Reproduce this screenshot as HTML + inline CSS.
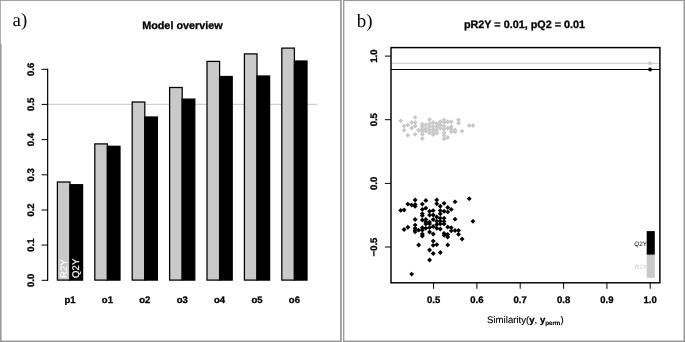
<!DOCTYPE html>
<html lang="en"><head><meta charset="utf-8"><title>Model overview and permutation plot</title>
<style>html,body{margin:0;padding:0;background:#fff}svg{display:block}text{font-family:"Liberation Sans",Arial,Helvetica,sans-serif;fill:#000;text-rendering:geometricPrecision}.b{font-weight:bold;stroke:#000;stroke-width:0.3px}.s{font-family:"Liberation Serif","Times New Roman",serif}</style></head><body>
<svg width="685" height="342" viewBox="0 0 685 342">
<rect x="0" y="0" width="685" height="342" fill="#fff"/>
<g fill="#9a9a9a">
<rect x="0" y="0" width="342" height="0.9"/>
<rect x="0" y="0" width="0.8" height="44"/>
<rect x="0" y="44" width="1.6" height="298"/>
<rect x="0" y="340.5" width="341.9" height="1.5"/>
<rect x="340" y="0" width="1.9" height="342" fill="#a2a2a2"/>
<rect x="343" y="0" width="1.35" height="342"/>
<rect x="343" y="0" width="342" height="1.1"/>
<rect x="343" y="340.5" width="342" height="1.5"/>
<rect x="683.5" y="0" width="1.5" height="342"/>
</g>
<text class="s" x="12.5" y="25.9" font-size="18.9">a)</text>
<text class="b" x="182.4" y="28.6" font-size="10.8" text-anchor="middle">Model overview</text>
<line x1="48" y1="104.3" x2="317.4" y2="104.3" stroke="#bdbdbd" stroke-width="0.9"/>
<g stroke="#000" stroke-width="1" fill="none">
<line x1="47.65" y1="68.8" x2="47.65" y2="280.8" stroke-width="1.2"/>
<line x1="41.6" y1="280.3" x2="48" y2="280.3"/>
<line x1="41.6" y1="245.1" x2="48" y2="245.1"/>
<line x1="41.6" y1="210.0" x2="48" y2="210.0"/>
<line x1="41.6" y1="174.8" x2="48" y2="174.8"/>
<line x1="41.6" y1="139.6" x2="48" y2="139.6"/>
<line x1="41.6" y1="104.4" x2="48" y2="104.4"/>
<line x1="41.6" y1="69.3" x2="48" y2="69.3"/>
</g>
<text class="b" font-size="9.5" text-anchor="middle" transform="translate(34.2 280.3) rotate(-90)">0.0</text>
<text class="b" font-size="9.5" text-anchor="middle" transform="translate(34.2 245.1) rotate(-90)">0.1</text>
<text class="b" font-size="9.5" text-anchor="middle" transform="translate(34.2 210.0) rotate(-90)">0.2</text>
<text class="b" font-size="9.5" text-anchor="middle" transform="translate(34.2 174.8) rotate(-90)">0.3</text>
<text class="b" font-size="9.5" text-anchor="middle" transform="translate(34.2 139.6) rotate(-90)">0.4</text>
<text class="b" font-size="9.5" text-anchor="middle" transform="translate(34.2 104.4) rotate(-90)">0.5</text>
<text class="b" font-size="9.5" text-anchor="middle" transform="translate(34.2 69.3) rotate(-90)">0.6</text>
<g stroke="#000" stroke-width="1.25">
<rect x="57.40" y="182.0" width="12.6" height="98.1" fill="#c9c9c9"/>
<rect x="70.00" y="184.7" width="12.6" height="95.4" fill="#000"/>
<rect x="94.80" y="143.9" width="12.6" height="136.2" fill="#c9c9c9"/>
<rect x="107.40" y="146.3" width="12.6" height="133.8" fill="#000"/>
<rect x="132.20" y="102.0" width="12.6" height="178.1" fill="#c9c9c9"/>
<rect x="144.80" y="117.0" width="12.6" height="163.1" fill="#000"/>
<rect x="169.60" y="87.5" width="12.6" height="192.6" fill="#c9c9c9"/>
<rect x="182.20" y="99.1" width="12.6" height="181.0" fill="#000"/>
<rect x="207.00" y="61.4" width="12.6" height="218.7" fill="#c9c9c9"/>
<rect x="219.60" y="76.5" width="12.6" height="203.6" fill="#000"/>
<rect x="244.40" y="53.9" width="12.6" height="226.2" fill="#c9c9c9"/>
<rect x="257.00" y="76.0" width="12.6" height="204.1" fill="#000"/>
<rect x="281.80" y="48.1" width="12.6" height="232.0" fill="#c9c9c9"/>
<rect x="294.40" y="61.0" width="12.6" height="219.1" fill="#000"/>
</g>
<text class="b" font-size="9.5" text-anchor="middle" x="70.0" y="303.35">p1</text>
<text class="b" font-size="9.5" text-anchor="middle" x="107.4" y="303.35">o1</text>
<text class="b" font-size="9.5" text-anchor="middle" x="144.8" y="303.35">o2</text>
<text class="b" font-size="9.5" text-anchor="middle" x="182.2" y="303.35">o3</text>
<text class="b" font-size="9.5" text-anchor="middle" x="219.6" y="303.35">o4</text>
<text class="b" font-size="9.5" text-anchor="middle" x="257.0" y="303.35">o5</text>
<text class="b" font-size="9.5" text-anchor="middle" x="294.4" y="303.35">o6</text>
<text font-size="9.6" style="fill:#fff;stroke:#fff;stroke-width:0.2px" transform="translate(66.5 277.9) rotate(-90)">R2Y</text>
<text font-size="9.6" style="fill:#fff;stroke:#fff;stroke-width:0.2px" transform="translate(78.8 277.9) rotate(-90)">Q2Y</text>
<text class="s" x="356.7" y="27.0" font-size="18.9">b)</text>
<text class="b" x="524.5" y="28.4" font-size="10.8" text-anchor="middle">pR2Y = 0.01, pQ2 = 0.01</text>
<path fill="#c9c9c9" d="M400.7 118.4L403.1 120.8L400.7 123.3L398.2 120.8ZM415.1 114.9L417.6 117.3L415.1 119.8L412.7 117.3ZM404.1 123.7L406.5 126.1L404.1 128.6L401.6 126.1ZM407.8 122.4L410.3 124.9L407.8 127.3L405.4 124.9ZM411.6 119.9L414.1 122.4L411.6 124.8L409.2 122.4ZM415.1 119.9L417.6 122.4L415.1 124.8L412.7 122.4ZM404.1 127.8L406.5 130.3L404.1 132.7L401.6 130.3ZM411.6 125.6L414.1 128.0L411.6 130.5L409.2 128.0ZM415.1 123.7L417.6 126.1L415.1 128.6L412.7 126.1ZM407.8 132.7L410.3 135.2L407.8 137.6L405.4 135.2ZM415.1 131.9L417.6 134.3L415.1 136.8L412.7 134.3ZM418.7 127.8L421.1 130.3L418.7 132.7L416.2 130.3ZM422.3 121.8L424.8 124.2L422.3 126.7L419.9 124.2ZM422.3 124.3L424.8 126.8L422.3 129.2L419.9 126.8ZM422.3 126.8L424.8 129.3L422.3 131.7L419.9 129.3ZM422.3 129.3L424.8 131.8L422.3 134.2L419.9 131.8ZM422.3 131.9L424.8 134.3L422.3 136.8L419.9 134.3ZM422.3 136.0L424.8 138.5L422.3 140.9L419.9 138.5ZM425.8 122.4L428.3 124.9L425.8 127.3L423.4 124.9ZM425.8 126.2L428.3 128.6L425.8 131.1L423.4 128.6ZM425.8 128.7L428.3 131.2L425.8 133.6L423.4 131.2ZM429.6 117.1L432.0 119.6L429.6 122.0L427.1 119.6ZM429.6 121.2L432.0 123.6L429.6 126.1L427.1 123.6ZM429.6 124.3L432.0 126.8L429.6 129.2L427.1 126.8ZM429.6 127.4L432.0 129.9L429.6 132.3L427.1 129.9ZM429.6 130.6L432.0 133.0L429.6 135.5L427.1 133.0ZM433.2 119.9L435.7 122.4L433.2 124.8L430.8 122.4ZM433.2 123.7L435.7 126.1L433.2 128.6L430.8 126.1ZM433.2 126.8L435.7 129.3L433.2 131.7L430.8 129.3ZM433.2 129.3L435.7 131.8L433.2 134.2L430.8 131.8ZM433.2 132.2L435.7 134.7L433.2 137.1L430.8 134.7ZM436.8 121.2L439.2 123.6L436.8 126.1L434.3 123.6ZM436.8 124.3L439.2 126.8L436.8 129.2L434.3 126.8ZM436.8 127.4L439.2 129.9L436.8 132.3L434.3 129.9ZM436.8 130.6L439.2 133.0L436.8 135.5L434.3 133.0ZM440.3 119.3L442.7 121.7L440.3 124.2L437.8 121.7ZM440.3 122.4L442.7 124.9L440.3 127.3L437.8 124.9ZM440.3 125.6L442.7 128.0L440.3 130.5L437.8 128.0ZM444.1 117.4L446.5 119.8L444.1 122.3L441.6 119.8ZM444.1 119.9L446.5 122.4L444.1 124.8L441.6 122.4ZM444.1 123.7L446.5 126.1L444.1 128.6L441.6 126.1ZM444.1 126.8L446.5 129.3L444.1 131.7L441.6 129.3ZM444.1 130.6L446.5 133.0L444.1 135.5L441.6 133.0ZM444.1 133.1L446.5 135.6L444.1 138.0L441.6 135.6ZM444.1 136.3L446.5 138.7L444.1 141.2L441.6 138.7ZM447.7 119.3L450.2 121.7L447.7 124.2L445.3 121.7ZM447.7 125.6L450.2 128.0L447.7 130.5L445.3 128.0ZM447.7 135.0L450.2 137.4L447.7 139.9L445.3 137.4ZM451.2 119.3L453.7 121.7L451.2 124.2L448.8 121.7ZM451.2 124.3L453.7 126.8L451.2 129.2L448.8 126.8ZM451.2 126.8L453.7 129.3L451.2 131.7L448.8 129.3ZM451.2 129.3L453.7 131.8L451.2 134.2L448.8 131.8ZM455.0 127.4L457.5 129.9L455.0 132.3L452.6 129.9ZM455.0 129.3L457.5 131.8L455.0 134.2L452.6 131.8ZM458.5 117.4L461.0 119.8L458.5 122.3L456.1 119.8ZM458.5 120.5L461.0 123.0L458.5 125.4L456.1 123.0ZM462.1 128.7L464.5 131.2L462.1 133.6L459.6 131.2ZM469.2 123.0L471.7 125.5L469.2 127.9L466.8 125.5ZM473.0 123.0L475.4 125.5L473.0 127.9L470.5 125.5Z"/>
<path fill="#000" d="M400.7 207.9L403.1 210.4L400.7 212.8L398.2 210.4ZM404.1 207.6L406.5 210.0L404.1 212.5L401.6 210.0ZM407.8 201.7L410.3 204.1L407.8 206.6L405.4 204.1ZM411.6 202.5L414.1 205.0L411.6 207.4L409.2 205.0ZM415.1 197.5L417.6 199.9L415.1 202.4L412.7 199.9ZM415.1 201.9L417.6 204.4L415.1 206.8L412.7 204.4ZM415.1 203.8L417.6 206.2L415.1 208.7L412.7 206.2ZM422.3 201.7L424.8 204.1L422.3 206.6L419.9 204.1ZM425.8 198.1L428.3 200.6L425.8 203.0L423.4 200.6ZM422.3 206.9L424.8 209.4L422.3 211.8L419.9 209.4ZM425.8 205.7L428.3 208.1L425.8 210.6L423.4 208.1ZM422.3 211.3L424.8 213.8L422.3 216.2L419.9 213.8ZM422.3 213.2L424.8 215.7L422.3 218.1L419.9 215.7ZM415.1 217.0L417.6 219.4L415.1 221.9L412.7 219.4ZM422.3 217.6L424.8 220.1L422.3 222.5L419.9 220.1ZM425.8 217.0L428.3 219.4L425.8 221.9L423.4 219.4ZM429.6 208.8L432.0 211.3L429.6 213.7L427.1 211.3ZM433.2 208.2L435.7 210.6L433.2 213.1L430.8 210.6ZM429.6 212.6L432.0 215.0L429.6 217.5L427.1 215.0ZM433.2 212.6L435.7 215.0L433.2 217.5L430.8 215.0ZM436.8 197.5L439.2 199.9L436.8 202.4L434.3 199.9ZM436.8 201.3L439.2 203.7L436.8 206.2L434.3 203.7ZM440.3 203.8L442.7 206.2L440.3 208.7L437.8 206.2ZM444.1 200.9L446.5 203.3L444.1 205.8L441.6 203.3ZM447.7 205.0L450.2 207.5L447.7 209.9L445.3 207.5ZM451.2 206.9L453.7 209.4L451.2 211.8L448.8 209.4ZM455.0 199.4L457.5 201.8L455.0 204.3L452.6 201.8ZM440.3 208.2L442.7 210.6L440.3 213.1L437.8 210.6ZM444.1 208.8L446.5 211.3L444.1 213.7L441.6 211.3ZM447.7 209.4L450.2 211.9L447.7 214.3L445.3 211.9ZM440.3 211.3L442.7 213.8L440.3 216.2L437.8 213.8ZM436.8 214.5L439.2 216.9L436.8 219.4L434.3 216.9ZM440.3 215.7L442.7 218.2L440.3 220.6L437.8 218.2ZM444.1 215.7L446.5 218.2L444.1 220.6L441.6 218.2ZM433.2 217.0L435.7 219.4L433.2 221.9L430.8 219.4ZM455.0 216.7L457.5 219.2L455.0 221.6L452.6 219.2ZM469.2 196.2L471.7 198.7L469.2 201.1L466.8 198.7ZM473.0 218.9L475.4 221.3L473.0 223.8L470.5 221.3ZM436.8 218.9L439.2 221.3L436.8 223.8L434.3 221.3ZM440.3 218.9L442.7 221.3L440.3 223.8L437.8 221.3ZM444.1 218.9L446.5 221.3L444.1 223.8L441.6 221.3ZM425.8 219.5L428.3 222.0L425.8 224.4L423.4 222.0ZM429.6 219.5L432.0 222.0L429.6 224.4L427.1 222.0ZM404.1 227.1L406.5 229.5L404.1 232.0L401.6 229.5ZM407.8 224.8L410.3 227.3L407.8 229.7L405.4 227.3ZM415.1 222.7L417.6 225.1L415.1 227.6L412.7 225.1ZM415.1 225.8L417.6 228.3L415.1 230.7L412.7 228.3ZM415.1 227.7L417.6 230.2L415.1 232.6L412.7 230.2ZM415.1 229.4L417.6 231.8L415.1 234.3L412.7 231.8ZM418.7 227.7L421.1 230.2L418.7 232.6L416.2 230.2ZM422.3 225.2L424.8 227.7L422.3 230.1L419.9 227.7ZM422.3 227.7L424.8 230.2L422.3 232.6L419.9 230.2ZM422.3 231.5L424.8 233.9L422.3 236.4L419.9 233.9ZM422.3 233.6L424.8 236.1L422.3 238.5L419.9 236.1ZM425.8 221.4L428.3 223.9L425.8 226.3L423.4 223.9ZM429.6 221.4L432.0 223.9L429.6 226.3L427.1 223.9ZM425.8 225.8L428.3 228.3L425.8 230.7L423.4 228.3ZM429.6 225.2L432.0 227.7L429.6 230.1L427.1 227.7ZM429.6 229.6L432.0 232.1L429.6 234.5L427.1 232.1ZM433.2 231.5L435.7 233.9L433.2 236.4L430.8 233.9ZM433.2 224.0L435.7 226.4L433.2 228.9L430.8 226.4ZM436.8 222.1L439.2 224.5L436.8 227.0L434.3 224.5ZM440.3 221.4L442.7 223.9L440.3 226.3L437.8 223.9ZM444.1 221.4L446.5 223.9L444.1 226.3L441.6 223.9ZM436.8 225.8L439.2 228.3L436.8 230.7L434.3 228.3ZM440.3 226.5L442.7 228.9L440.3 231.4L437.8 228.9ZM447.7 224.6L450.2 227.0L447.7 229.5L445.3 227.0ZM451.2 225.2L453.7 227.7L451.2 230.1L448.8 227.7ZM451.2 228.4L453.7 230.8L451.2 233.3L448.8 230.8ZM455.0 228.1L457.5 230.6L455.0 233.0L452.6 230.6ZM458.5 228.1L461.0 230.6L458.5 233.0L456.1 230.6ZM458.5 231.9L461.0 234.3L458.5 236.8L456.1 234.3ZM462.1 236.5L464.5 239.0L462.1 241.4L459.6 239.0ZM444.1 230.9L446.5 233.3L444.1 235.8L441.6 233.3ZM444.1 232.8L446.5 235.2L444.1 237.7L441.6 235.2ZM447.7 232.1L450.2 234.6L447.7 237.0L445.3 234.6ZM447.7 234.6L450.2 237.1L447.7 239.5L445.3 237.1ZM433.2 238.7L435.7 241.1L433.2 243.6L430.8 241.1ZM433.2 242.8L435.7 245.3L433.2 247.7L430.8 245.3ZM436.8 242.2L439.2 244.6L436.8 247.1L434.3 244.6ZM447.7 242.4L450.2 244.9L447.7 247.3L445.3 244.9ZM418.7 242.6L421.1 245.0L418.7 247.5L416.2 245.0ZM429.6 247.5L432.0 249.9L429.6 252.4L427.1 249.9ZM433.2 251.0L435.7 253.4L433.2 255.9L430.8 253.4ZM440.3 250.0L442.7 252.4L440.3 254.9L437.8 252.4ZM429.6 257.5L432.0 260.0L429.6 262.4L427.1 260.0ZM411.6 271.7L414.1 274.1L411.6 276.6L409.2 274.1Z"/>
<line x1="391.0" y1="63.3" x2="659.9" y2="63.3" stroke="#c9c9c9" stroke-width="1"/>
<line x1="391.0" y1="69.5" x2="659.9" y2="69.5" stroke="#000" stroke-width="1"/>
<circle cx="650.1" cy="63.3" r="1.9" fill="#c9c9c9"/>
<circle cx="650.1" cy="69.5" r="1.9" fill="#000"/>
<rect x="646.7" y="231.1" width="8.1" height="23.7" fill="#000"/>
<rect x="646.7" y="254.8" width="8.1" height="23.0" fill="#c9c9c9"/>
<text font-size="6.3" text-anchor="end" x="646.9" y="245.6">Q2Y</text>
<text font-size="6.3" text-anchor="end" x="646.9" y="268.9" style="fill:#c9c9c9">R2Y</text>
<g stroke="#000" stroke-width="1" fill="none">
<rect x="391.0" y="47.6" width="268.9" height="235.2" stroke-width="1.45"/>
<line x1="384.9" y1="56.1" x2="391.0" y2="56.1"/>
<line x1="384.9" y1="119.7" x2="391.0" y2="119.7"/>
<line x1="384.9" y1="183.4" x2="391.0" y2="183.4"/>
<line x1="384.9" y1="247.0" x2="391.0" y2="247.0"/>
<line x1="433.6" y1="282.8" x2="433.6" y2="288.8"/>
<line x1="476.9" y1="282.8" x2="476.9" y2="288.8"/>
<line x1="520.2" y1="282.8" x2="520.2" y2="288.8"/>
<line x1="563.6" y1="282.8" x2="563.6" y2="288.8"/>
<line x1="606.9" y1="282.8" x2="606.9" y2="288.8"/>
<line x1="650.2" y1="282.8" x2="650.2" y2="288.8"/>
</g>
<text class="b" font-size="9.5" text-anchor="middle" transform="translate(377.4 56.1) rotate(-90)">1.0</text>
<text class="b" font-size="9.5" text-anchor="middle" transform="translate(377.4 119.7) rotate(-90)">0.5</text>
<text class="b" font-size="9.5" text-anchor="middle" transform="translate(377.4 183.4) rotate(-90)">0.0</text>
<text class="b" font-size="9.5" text-anchor="middle" transform="translate(377.4 247.0) rotate(-90)">−0.5</text>
<text class="b" font-size="9.5" text-anchor="middle" x="433.6" y="303.3">0.5</text>
<text class="b" font-size="9.5" text-anchor="middle" x="476.9" y="303.3">0.6</text>
<text class="b" font-size="9.5" text-anchor="middle" x="520.2" y="303.3">0.7</text>
<text class="b" font-size="9.5" text-anchor="middle" x="563.6" y="303.3">0.8</text>
<text class="b" font-size="9.5" text-anchor="middle" x="606.9" y="303.3">0.9</text>
<text class="b" font-size="9.5" text-anchor="middle" x="650.2" y="303.3">1.0</text>
<text font-size="9.6" x="487.1" y="322.9" style="stroke:#000;stroke-width:0.12px">Similarity(<tspan class="b">y</tspan>, <tspan class="b">y</tspan><tspan class="b" font-size="6.2" dy="2.2" style="stroke-width:0.1px">perm</tspan><tspan dy="-2.2">)</tspan></text>
</svg></body></html>
